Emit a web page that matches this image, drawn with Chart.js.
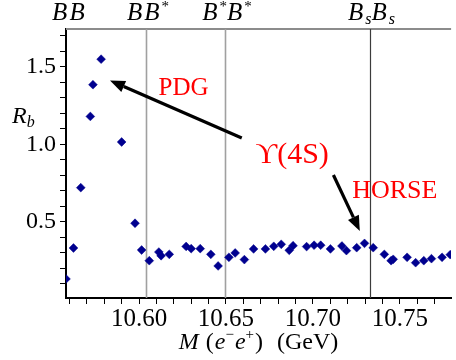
<!DOCTYPE html>
<html><head><meta charset="utf-8">
<script src="https://cdn.jsdelivr.net/npm/chart.js@4"></script>
<style>html,body{margin:0;padding:0;background:#fff}</style>
</head><body>
<canvas id="c" width="456" height="360"></canvas>
<script>
// M(e-e+) in GeV and the measured R_b at each point
const MASS = [10.558,10.5623,10.5665,10.572,10.5735,10.5782,10.590,10.5977,10.6015,10.6059,
  10.6114,10.6127,10.6174,10.6271,10.6300,10.6352,10.6413,10.6455,10.6517,10.6553,
  10.6606,10.6659,10.6727,10.6775,10.6818,10.6864,10.6886,10.6964,10.7007,10.7045,
  10.7101,10.7167,10.7193,10.7252,10.7297,10.7347,10.7411,10.7450,10.7462,10.7542,
  10.7591,10.7638,10.7682,10.7743,10.7790];
const RB = [0.13,0.33,0.72,1.18,1.385,1.55,1.015,0.49,0.317,0.248,
  0.304,0.28,0.289,0.34,0.326,0.326,0.289,0.214,0.27,0.298,
  0.255,0.324,0.324,0.341,0.354,0.315,0.345,0.339,0.348,0.348,
  0.324,0.343,0.313,0.332,0.36,0.332,0.289,0.248,0.257,0.27,
  0.235,0.248,0.261,0.27,0.287];

// open-flavour thresholds
const THRESHOLDS = [10.5588, 10.604, 10.6494, 10.7326];
const THRESHOLD_NAMES = ['BB', 'BB*', 'B*B*', 'BsBs'];

const X_LABELS = [10.60, 10.65, 10.70, 10.75];
const Y_LABELS = [0.5, 1.0, 1.5];

const SERIF = '"Liberation Serif","DejaVu Serif",serif';
const it = s => `italic ${s}px ${SERIF}`;
const up = s => `${s}px ${SERIF}`;

function rich(ctx, parts, x, y, align) {
  let w = 0;
  parts.forEach(p => { ctx.font = p.f; p.w = ctx.measureText(p.t).width + (p.gap || 0); w += p.w; });
  let cx = align === 'center' ? x - w / 2 : x;
  parts.forEach(p => { ctx.font = p.f; ctx.fillText(p.t, cx, y + (p.dy || 0)); cx += p.w; });
}

function nameParts(name) {
  const B = {t:'B', f:it(25), gap:2};
  const star = {t:'*', f:up(15), dy:-9};
  const s = {t:'s', f:it(16), dy:4};
  return {
    'BB':   [B, {...B}],
    'BB*':  [B, {...B}, star],
    'B*B*': [B, star, {...B}, {...star}],
    'BsBs': [B, s, {...B}, {...s}]
  }[name];
}

function arrow(ctx, x1, y1, x2, y2) {
  const a = Math.atan2(y2 - y1, x2 - x1), L = 15, H = 6;
  const bx = x2 - L * Math.cos(a), by = y2 - L * Math.sin(a);
  ctx.strokeStyle = '#000'; ctx.fillStyle = '#000'; ctx.lineWidth = 3.2;
  ctx.beginPath(); ctx.moveTo(x1, y1); ctx.lineTo(bx, by); ctx.stroke();
  ctx.beginPath(); ctx.moveTo(x2, y2);
  ctx.lineTo(bx + H * Math.sin(a), by - H * Math.cos(a));
  ctx.lineTo(bx - H * Math.sin(a), by + H * Math.cos(a));
  ctx.closePath(); ctx.fill();
}

const decor = {
  id: 'decor',
  beforeDatasetsDraw(chart) {
    const {ctx, chartArea: a, scales: {x}} = chart;
    ctx.save();
    ctx.strokeStyle = '#8c8c8c'; ctx.lineWidth = 2;
    ctx.beginPath(); ctx.moveTo(a.left, a.top); ctx.lineTo(a.right, a.top); ctx.stroke();
    THRESHOLDS.forEach((t, i) => {
      if (t - x.min < 0.002) return;
      const px = Math.round(x.getPixelForValue(t)) + 0.5;
      ctx.strokeStyle = i === THRESHOLDS.length - 1 ? '#3c3c3c' : '#a0a0a0';
      ctx.lineWidth = i === THRESHOLDS.length - 1 ? 1.2 : 1.6;
      ctx.beginPath(); ctx.moveTo(px, a.top); ctx.lineTo(px, a.bottom); ctx.stroke();
    });
    ctx.restore();
  },
  afterDraw(chart) {
    const {ctx, chartArea: a, scales: {x, y}} = chart;
    ctx.save();
    ctx.fillStyle = '#000'; ctx.textBaseline = 'alphabetic';
    THRESHOLDS.forEach((t, i) => rich(ctx, nameParts(THRESHOLD_NAMES[i]), x.getPixelForValue(t) + 2, 20, 'center'));

    // R_b
    rich(ctx, [{t:'R', f:it(24)}, {t:'b', f:it(16), dy:4}], 12, 123);
    // M (e−e+) (GeV)
    rich(ctx, [{t:'M', f:it(24), gap:7}, {t:'(', f:up(24), gap:1}, {t:'e', f:it(24)}, {t:'−', f:up(15), dy:-10, gap:1},
      {t:'e', f:it(24)}, {t:'+', f:up(15), dy:-10, gap:1}, {t:')', f:up(24), gap:14}, {t:'(GeV)', f:up(24)}],
      (a.left + a.right) / 2, 349, 'center');

    const X = v => x.getPixelForValue(v), Y = v => y.getPixelForValue(v);
    arrow(ctx, X(10.6591), Y(1.041), X(10.5833), Y(1.412));
    arrow(ctx, X(10.7118), Y(0.802), X(10.7270), Y(0.440));
    ctx.fillStyle = '#ff0000'; ctx.textAlign = 'left';
    rich(ctx, [{t:'PDG', f:up(25)}], X(10.6256), Y(1.319), 'center');
    rich(ctx, [{t:'ϒ', f:up(30)}, {t:'(4S)', f:up(30)}], X(10.6881), Y(0.879), 'center');
    rich(ctx, [{t:'HORSE', f:up(26)}], X(10.7471), Y(0.653), 'center');
    ctx.restore();
  }
};

new Chart(document.getElementById('c'), {
  type: 'scatter',
  data: {datasets: [{
    data: MASS.map((m, i) => ({x: m, y: RB[i]})),
    pointStyle: 'rectRot', pointRadius: 4.4, backgroundColor: '#00008f', borderColor: '#00008f', borderWidth: 0.5
  }]},
  options: {
    responsive: false, animation: false,
    layout: {padding: {top: 29, left: 0, right: 0, bottom: 0}},
    plugins: {legend: {display: false}, tooltip: {enabled: false}},
    scales: {
      x: {
        type: 'linear', min: 10.558, max: 10.7795,
        afterFit: s => { s.height = 62; },
        border: {color: '#000', width: 2},
        grid: {drawOnChartArea: false, tickLength: 6, tickColor: '#000', tickWidth: 1},
        ticks: {stepSize: 0.01, includeBounds: false, autoSkip: false, maxRotation: 0, padding: 0,
          color: '#000', font: {family: SERIF, size: 25},
          callback: v => X_LABELS.some(l => Math.abs(l - v) < 1e-6) ? v.toFixed(2) : ''}
      },
      y: {
        min: 0.007, max: 1.745,
        afterFit: s => { s.width = 66; },
        border: {color: '#000', width: 2},
        grid: {drawOnChartArea: false, tickLength: 6, tickColor: '#000', tickWidth: 1},
        ticks: {stepSize: 0.1, includeBounds: false, autoSkip: false, padding: 4,
          color: '#000', font: {family: SERIF, size: 24},
          callback: v => Y_LABELS.some(l => Math.abs(l - v) < 1e-6) ? v.toFixed(1) : ''}
      }
    }
  },
  plugins: [decor]
});
</script>
</body></html>
